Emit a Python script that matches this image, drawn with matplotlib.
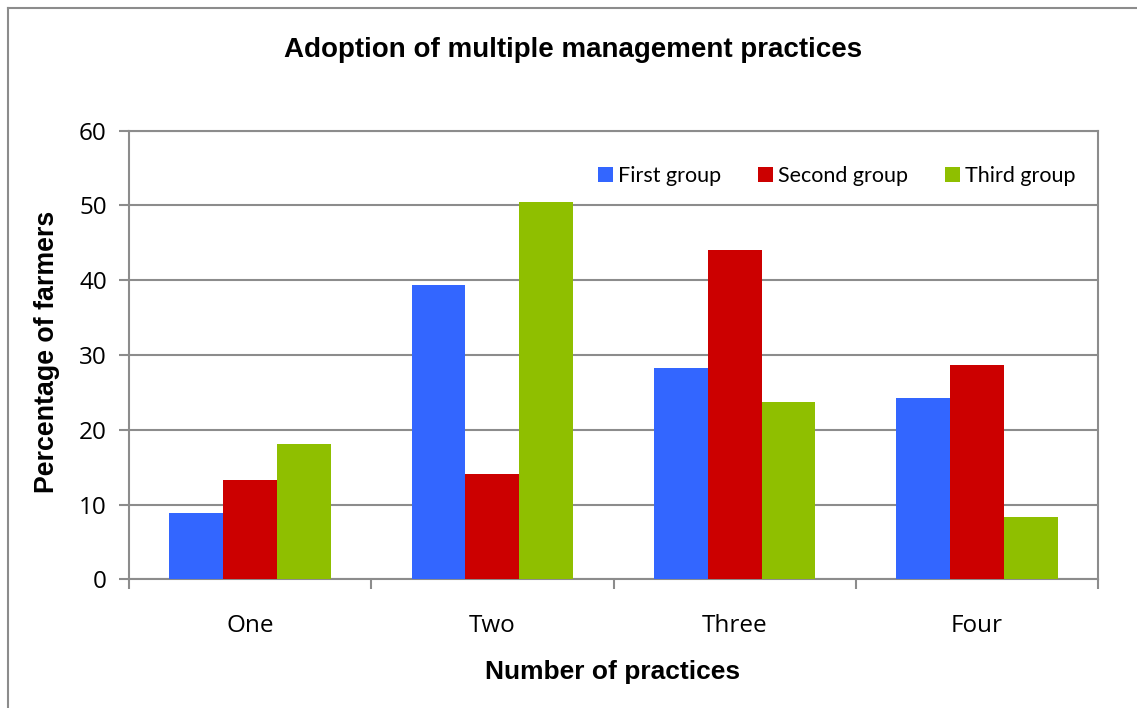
import matplotlib.pyplot as plt
from matplotlib.lines import Line2D
import numpy as np

categories = ["One", "Two", "Three", "Four"]
groups = ["First group", "Second group", "Third group"]
first_group = [8.8, 39.4, 28.3, 24.3]
second_group = [13.3, 14.1, 44.0, 28.7]
third_group = [18.1, 50.5, 23.7, 8.3]
colors = ["#3366FF", "#CC0000", "#8FBF00"]

grid_col = "#8C8C8C"

fig = plt.figure(figsize=(11.37, 7.08), dpi=100)
ax = fig.add_axes([0.1135, 0.1818, 0.8522, 0.6336])

x = np.arange(len(categories))
w = 0.2222
for i, (vals, name) in enumerate(zip([first_group, second_group, third_group], groups)):
    ax.bar(x + (i - 1) * w, vals, width=w, color=colors[i], label=name, zorder=3)

ax.set_xlim(-0.5, 3.5)
ax.set_ylim(0, 60)
ax.set_yticks(range(0, 61, 10))
ax.yaxis.grid(True, color=grid_col, linewidth=1.5, zorder=0)
ax.set_axisbelow(True)

for s in ax.spines.values():
    s.set_color(grid_col)
    s.set_linewidth(1.5)

ax.set_xticks(x)
ax.set_xticklabels(categories, fontfamily="Open Sans", fontsize=17.5)
ax.set_xticks(np.arange(-0.5, 4.0, 1.0), minor=True)
ax.tick_params(axis="x", which="major", length=0, pad=25)
ax.tick_params(axis="x", which="minor", length=7, width=1.5, color=grid_col)
ax.tick_params(axis="y", length=7, width=1.5, color=grid_col, pad=9, labelsize=17.5)
for lab in ax.get_yticklabels():
    lab.set_fontfamily("Open Sans")

ax.set_xlabel("Number of practices", fontfamily="Liberation Sans", fontweight="bold",
              fontsize=19, va="center")
ax.xaxis.set_label_coords(0.499, -0.2066)
ax.set_ylabel("Percentage of farmers", fontfamily="Liberation Sans", fontweight="bold",
              fontsize=19.3, va="center")
ax.yaxis.set_label_coords(-0.0846, 0.508)

fig.text(0.504, 1 - 57 / 708, "Adoption of multiple management practices",
         ha="center", va="baseline", fontfamily="Liberation Sans", fontweight="bold", fontsize=20)

leg = ax.legend(loc="upper right", bbox_to_anchor=(0.997, 0.964), ncol=3, frameon=False,
                prop={"family": "Lato", "size": 15.5}, handlelength=0.7, handleheight=0.7,
                handletextpad=0.25, columnspacing=1.7)

# outer chart border (only left and top visible)
fig.add_artist(Line2D([7.5 / 1137, 7.5 / 1137], [0, 1 - 7.5 / 708], color=grid_col,
                      linewidth=1.5, transform=fig.transFigure))
fig.add_artist(Line2D([7.5 / 1137, 1], [1 - 7.5 / 708, 1 - 7.5 / 708], color=grid_col,
                      linewidth=1.5, transform=fig.transFigure))

fig.savefig("out.png", dpi=100)
